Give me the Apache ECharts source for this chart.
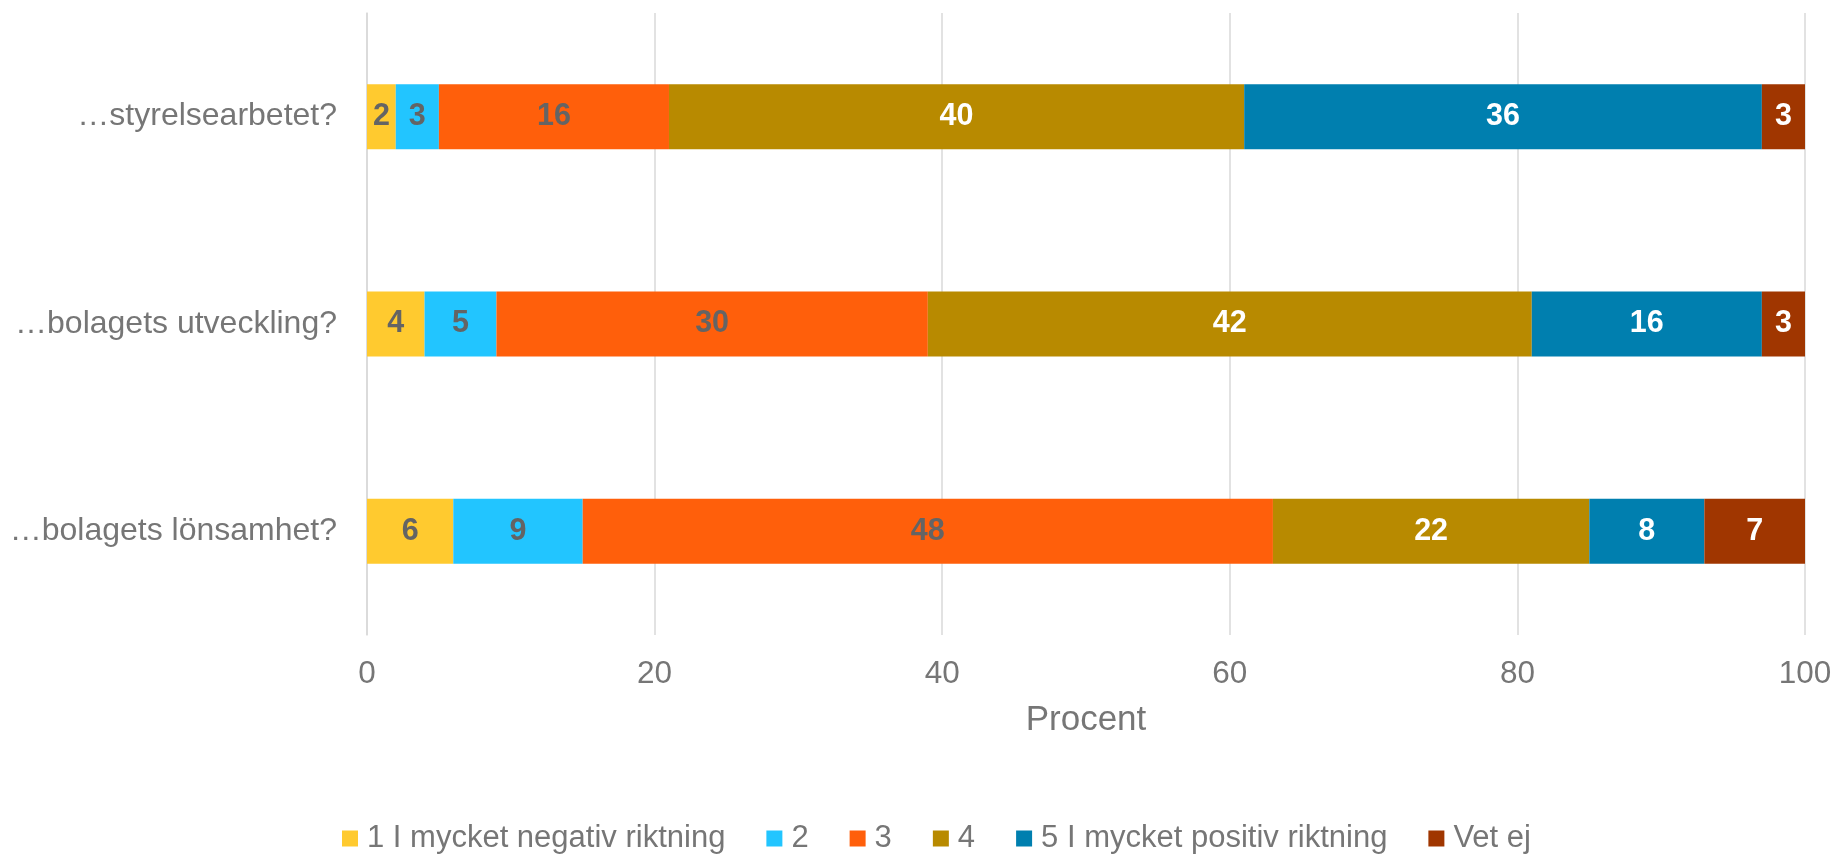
<!DOCTYPE html>
<html>
<head>
<meta charset="utf-8">
<script src="https://cdn.jsdelivr.net/npm/echarts@6/dist/echarts.min.js"></script>
<style>
html, body { margin: 0; padding: 0; background: #fff; }
#chart { width: 1837px; height: 855px; }
</style>
</head>
<body>
<div id="chart"></div>
<script>
// frågor (uppifrån och ned)
const categories = ['…styrelsearbetet?', '…bolagets utveckling?', '…bolagets lönsamhet?'];
const seriesNames = ['1 I mycket negativ riktning', '2', '3', '4', '5 I mycket positiv riktning', 'Vet ej'];
const negativ = [2, 4, 6];
const tva = [3, 5, 9];
const tre = [16, 30, 48];
const fyra = [40, 42, 22];
const positiv = [36, 16, 8];
const vetEj = [3, 3, 7];
const xTicks = [0, 20, 40, 60, 80, 100];

const colors = ['#FFCA2F', '#22C5FF', '#FF5F0B', '#B88A00', '#007FAF', '#A03600'];
const labelColors = ['#646464', '#646464', '#646464', '#fff', '#fff', '#fff'];
const values = [negativ, tva, tre, fyra, positiv, vetEj];
const FONT = '"Liberation Sans", Arial, sans-serif';

var myChart = echarts.init(document.getElementById('chart'));
var series = values.map((v, i) => ({
  name: seriesNames[i],
  type: 'bar',
  stack: 'total',
  data: v,
  barWidth: 65,
  itemStyle: { color: colors[i] },
  label: {
    show: true,
    position: 'inside',
    color: labelColors[i],
    fontFamily: FONT,
    fontWeight: 'bold',
    fontSize: 30.5
  }
}));

var option = {
  animation: false,
  textStyle: { fontFamily: FONT },
  grid: {
    left: 367,
    right: 32,
    top: 13,
    bottom: 220,
    containLabel: false
  },
  legend: {
    top: 818,
    left: 337,
    icon: 'rect',
    itemWidth: 16,
    itemHeight: 16,
    itemGap: 41,
    textStyle: { color: '#767676', fontSize: 31, fontFamily: FONT, padding: [0, 0, 0, 4] }
  },
  xAxis: {
    type: 'value',
    min: xTicks[0],
    max: xTicks[xTicks.length - 1],
    interval: 20,
    name: 'Procent',
    nameLocation: 'middle',
    nameGap: 68,
    nameTextStyle: { color: '#767676', fontSize: 35, fontFamily: FONT },
    axisLine: { show: false },
    axisTick: { show: false },
    axisLabel: { color: '#767676', fontSize: 31.5, margin: 23, fontFamily: FONT },
    splitLine: { lineStyle: { color: '#D9D9D9', width: 1.5 } }
  },
  yAxis: {
    type: 'category',
    data: categories,
    inverse: true,
    axisLine: { show: true, lineStyle: { color: '#D9D9D9', width: 1.5 } },
    axisTick: { show: false },
    axisLabel: { color: '#767676', fontSize: 32, margin: 30, fontFamily: FONT }
  },
  series: series
};
option && myChart.setOption(option);
</script>
</body>
</html>
